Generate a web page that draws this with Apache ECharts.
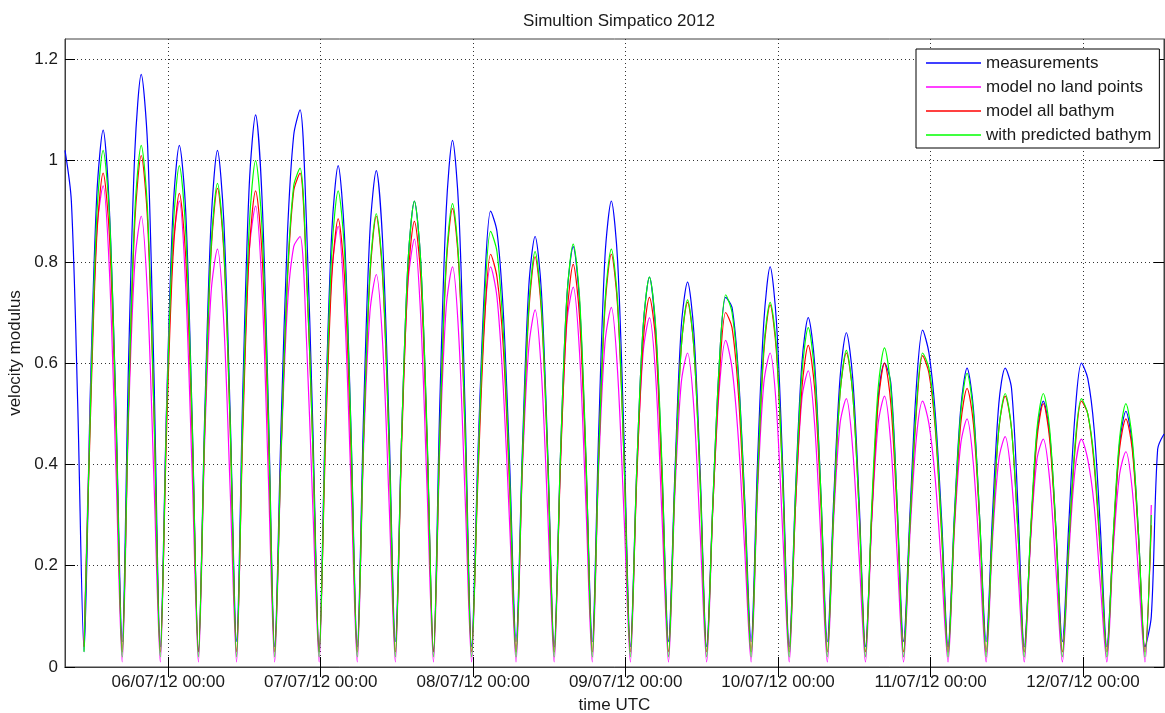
<!DOCTYPE html>
<html>
<head>
<meta charset="utf-8">
<title>Simultion Simpatico 2012</title>
<script src="https://cdn.jsdelivr.net/npm/echarts@6/dist/echarts.min.js"></script>
<style>
    html,body{margin:0;padding:0;background:#fff;}
    #chart{width:1165px;height:713px;}
</style>
</head>
<body>
<div id="chart"></div>
<script>
// hourly samples, first sample 05/07/12 07:45 UTC
var startTime=Date.UTC(2012,6,5,7,45);
var hourMs=3600000;

// day ticks (UTC midnights) shown on the time axis
var dayTicks=["2012-07-06","2012-07-07","2012-07-08","2012-07-09","2012-07-10","2012-07-11","2012-07-12"];
var yTicks=[0,0.2,0.4,0.6,0.8,1,1.2];

var measurements=[
    1.02,0.92,0.52,0.03,0.55,0.93,1.06,0.90,0.52,0.05,
    0.60,1.02,1.17,1.03,0.58,0.04,0.52,0.90,1.03,0.90,
    0.50,0.03,0.50,0.88,1.02,0.88,0.50,0.05,0.55,0.95,
    1.09,0.93,0.52,0.04,0.47,0.85,1.05,1.10,0.88,0.48,
    0.03,0.50,0.86,0.99,0.85,0.48,0.04,0.50,0.86,0.98,
    0.84,0.48,0.05,0.46,0.80,0.92,0.80,0.45,0.03,0.52,
    0.90,1.04,0.90,0.50,0.04,0.42,0.74,0.90,0.86,0.70,
    0.40,0.05,0.43,0.75,0.85,0.74,0.42,0.04,0.42,0.73,
    0.83,0.72,0.41,0.05,0.46,0.81,0.92,0.80,0.45,0.04,
    0.39,0.67,0.77,0.66,0.38,0.05,0.38,0.67,0.76,0.66,
    0.38,0.04,0.33,0.60,0.73,0.71,0.58,0.33,0.05,0.40,
    0.68,0.79,0.68,0.39,0.04,0.35,0.60,0.69,0.60,0.34,
    0.05,0.33,0.57,0.66,0.57,0.33,0.04,0.30,0.53,0.60,
    0.56,0.32,0.05,0.30,0.55,0.665,0.62,0.50,0.29,0.04,
    0.30,0.51,0.59,0.51,0.29,0.05,0.30,0.52,0.59,0.55,
    0.32,0.04,0.26,0.46,0.525,0.46,0.27,0.05,0.28,0.50,
    0.60,0.57,0.47,0.27,0.04,0.25,0.44,0.505,0.44,0.26,
    0.04,0.10,0.43,0.46
];
var modelNoLand=[
    null,null,null,0.05,0.52,0.86,0.95,0.78,0.40,0.01,
    0.49,0.80,0.89,0.73,0.37,0.01,0.51,0.83,0.92,0.75,
    0.39,0.01,0.45,0.74,0.825,0.68,0.35,0.01,0.50,0.82,
    0.91,0.75,0.38,0.01,0.41,0.71,0.83,0.85,0.65,0.32,
    0.01,0.48,0.78,0.87,0.71,0.37,0.01,0.43,0.70,0.775,
    0.64,0.33,0.01,0.46,0.76,0.845,0.69,0.35,0.01,0.43,
    0.71,0.79,0.65,0.33,0.01,0.40,0.68,0.79,0.73,0.55,
    0.28,0.01,0.39,0.63,0.705,0.58,0.30,0.01,0.41,0.68,
    0.75,0.62,0.32,0.01,0.39,0.64,0.71,0.58,0.30,0.01,
    0.38,0.62,0.69,0.57,0.29,0.01,0.34,0.56,0.62,0.51,
    0.26,0.01,0.32,0.55,0.645,0.59,0.45,0.23,0.01,0.34,
    0.56,0.62,0.51,0.26,0.01,0.32,0.53,0.585,0.48,0.25,
    0.01,0.29,0.48,0.53,0.43,0.22,0.01,0.29,0.48,0.535,
    0.44,0.22,0.01,0.26,0.45,0.525,0.48,0.37,0.19,0.01,
    0.27,0.44,0.49,0.40,0.21,0.01,0.25,0.41,0.455,0.37,
    0.19,0.01,0.25,0.41,0.45,0.37,0.19,0.01,0.22,0.39,
    0.45,0.41,0.32,0.16,0.01,0.23,0.38,0.425,0.35,0.18,
    0.01,0.32,null,null
];
var modelAllBathym=[
    null,null,null,0.04,0.49,0.85,0.975,0.85,0.49,0.03,
    0.51,0.88,1.01,0.88,0.50,0.03,0.47,0.81,0.935,0.81,
    0.47,0.03,0.47,0.82,0.945,0.82,0.47,0.03,0.47,0.82,
    0.94,0.82,0.47,0.03,0.42,0.76,0.94,0.975,0.78,0.44,
    0.03,0.44,0.77,0.885,0.77,0.44,0.03,0.45,0.77,0.89,
    0.77,0.44,0.03,0.44,0.77,0.88,0.77,0.44,0.03,0.45,
    0.79,0.905,0.79,0.45,0.03,0.37,0.67,0.815,0.77,0.63,
    0.35,0.03,0.40,0.70,0.81,0.70,0.40,0.03,0.40,0.69,
    0.795,0.69,0.40,0.03,0.41,0.71,0.815,0.71,0.41,0.03,
    0.37,0.64,0.73,0.64,0.36,0.03,0.36,0.63,0.72,0.63,
    0.36,0.03,0.32,0.57,0.70,0.67,0.54,0.30,0.03,0.36,
    0.62,0.715,0.62,0.36,0.03,0.32,0.55,0.635,0.55,0.32,
    0.03,0.31,0.54,0.62,0.54,0.31,0.03,0.30,0.52,0.60,
    0.52,0.30,0.03,0.28,0.50,0.615,0.58,0.47,0.26,0.03,
    0.28,0.48,0.55,0.48,0.28,0.03,0.27,0.47,0.535,0.47,
    0.27,0.03,0.26,0.45,0.52,0.45,0.26,0.03,0.24,0.43,
    0.525,0.50,0.40,0.22,0.03,0.25,0.43,0.49,0.43,0.25,
    0.03,0.28,null,null
];
var predictedBathym=[
    null,null,null,0.03,0.51,0.89,1.02,0.89,0.51,0.02,
    0.52,0.90,1.03,0.90,0.51,0.02,0.50,0.86,0.99,0.86,
    0.49,0.02,0.48,0.83,0.955,0.83,0.48,0.02,0.50,0.87,
    1.00,0.87,0.50,0.02,0.42,0.77,0.95,0.985,0.79,0.44,
    0.02,0.47,0.82,0.94,0.82,0.47,0.02,0.45,0.78,0.895,
    0.78,0.45,0.02,0.46,0.80,0.92,0.80,0.46,0.02,0.46,
    0.80,0.915,0.80,0.46,0.02,0.39,0.71,0.86,0.82,0.66,
    0.37,0.02,0.41,0.71,0.82,0.71,0.41,0.02,0.42,0.73,
    0.835,0.73,0.42,0.02,0.41,0.72,0.825,0.72,0.41,0.02,
    0.39,0.67,0.77,0.67,0.39,0.02,0.36,0.63,0.725,0.63,
    0.36,0.02,0.33,0.60,0.735,0.70,0.57,0.32,0.02,0.36,
    0.63,0.72,0.63,0.36,0.02,0.34,0.58,0.67,0.58,0.34,
    0.02,0.31,0.54,0.625,0.54,0.31,0.02,0.32,0.55,0.63,
    0.55,0.32,0.02,0.28,0.51,0.62,0.59,0.48,0.27,0.02,
    0.29,0.50,0.58,0.50,0.29,0.02,0.27,0.47,0.54,0.47,
    0.27,0.02,0.27,0.47,0.54,0.47,0.27,0.02,0.24,0.44,
    0.53,0.50,0.41,0.23,0.02,0.26,0.45,0.52,0.45,0.26,
    0.02,0.30,null,null
];

var seriesNames=["measurements","model no land points","model all bathym","with predicted bathym"];
var seriesColors=["#0000ff","#ff00ff","#ff0000","#00ff00"];
var seriesValues=[measurements,modelNoLand,modelAllBathym,predictedBathym];

var font="'Liberation Sans', Arial, Helvetica, sans-serif";
var textColor="#1a1a1a";
var axisColor="#404040";

function pad(n){return n<10?"0"+n:""+n;}
function fmtDay(v){
    var d=new Date(v);
    return pad(d.getUTCDate())+"/"+pad(d.getUTCMonth()+1)+"/"+pad(d.getUTCFullYear()%100)+" "+pad(d.getUTCHours())+":"+pad(d.getUTCMinutes());
}
var dayTickValues=dayTicks.map(function(s){return Date.parse(s+"T00:00:00Z");});
var xMin=startTime;
var xMax=startTime+(measurements.length-1)*hourMs;

var dotted={type:[1,3],color:"#333",width:1};

var option={
    animation:false,
    backgroundColor:"#fff",
    textStyle:{fontFamily:font},
    title:{
        text:"Simultion Simpatico 2012",
        left:614,top:8,textAlign:"center",
        textStyle:{fontFamily:font,fontSize:17,fontWeight:"normal",color:textColor}
    },
    legend:{
        orient:"vertical",
        left:916,top:49,
        padding:[4,8,3,10],
        icon:"rect",
        itemGap:4,itemWidth:55,itemHeight:1.5,itemTextGap:5,
        backgroundColor:"#fff",borderColor:"#000",borderWidth:1,borderRadius:0,
        textStyle:{fontFamily:font,fontSize:17,lineHeight:20,color:textColor},
        data:seriesNames
    },
    grid:{left:65,right:1,top:39,bottom:46,outerBoundsMode:"none",containLabel:false,show:true,borderColor:axisColor,borderWidth:1,backgroundColor:"#fff"},
    xAxis:[{
        type:"value",min:xMin,max:xMax,position:"bottom",
        name:"time UTC",nameLocation:"middle",nameGap:30,
        nameTextStyle:{fontFamily:font,fontSize:17,color:textColor},
        axisLine:{show:true,lineStyle:{color:axisColor}},
        axisTick:{show:true,inside:true,length:10,customValues:dayTickValues,lineStyle:{color:"#000"}},
        axisLabel:{show:true,customValues:dayTickValues,formatter:fmtDay,fontFamily:font,fontSize:17,color:textColor,margin:7},
        splitLine:{show:true,lineStyle:dotted}
    },{
        type:"value",min:xMin,max:xMax,position:"top",
        axisLine:{show:true,lineStyle:{color:axisColor}},
        axisTick:{show:true,inside:true,length:10,customValues:dayTickValues,lineStyle:{color:"#000"}},
        axisLabel:{show:false},
        splitLine:{show:false}
    }],
    yAxis:[{
        type:"value",min:0,max:1.24,position:"left",
        name:"velocity modulus",nameLocation:"middle",nameGap:34,
        nameTextStyle:{fontFamily:font,fontSize:17,color:textColor},
        axisLine:{show:true,lineStyle:{color:axisColor}},
        axisTick:{show:true,inside:true,length:10,customValues:yTicks,lineStyle:{color:"#000"}},
        axisLabel:{show:true,customValues:yTicks,fontFamily:font,fontSize:17,color:textColor,margin:7},
        splitLine:{show:true,lineStyle:dotted}
    },{
        type:"value",min:0,max:1.24,position:"right",
        axisLine:{show:true,lineStyle:{color:axisColor}},
        axisTick:{show:true,inside:true,length:10,customValues:yTicks,lineStyle:{color:"#000"}},
        axisLabel:{show:false},
        splitLine:{show:false}
    }],
    series:seriesNames.map(function(name,k){
        return {
            name:name,type:"line",
            xAxisIndex:0,yAxisIndex:0,
            symbol:"none",showSymbol:false,
            connectNulls:false,
            smooth:0.3,
            lineStyle:{color:seriesColors[k],width:1.2},
            itemStyle:{color:seriesColors[k]},
            z:2+k,
            data:seriesValues[k].map(function(v,i){return [startTime+i*hourMs,v];})
        };
    })
};

var chart=echarts.init(document.getElementById("chart"));
chart.setOption(option);
</script>
</body>
</html>
